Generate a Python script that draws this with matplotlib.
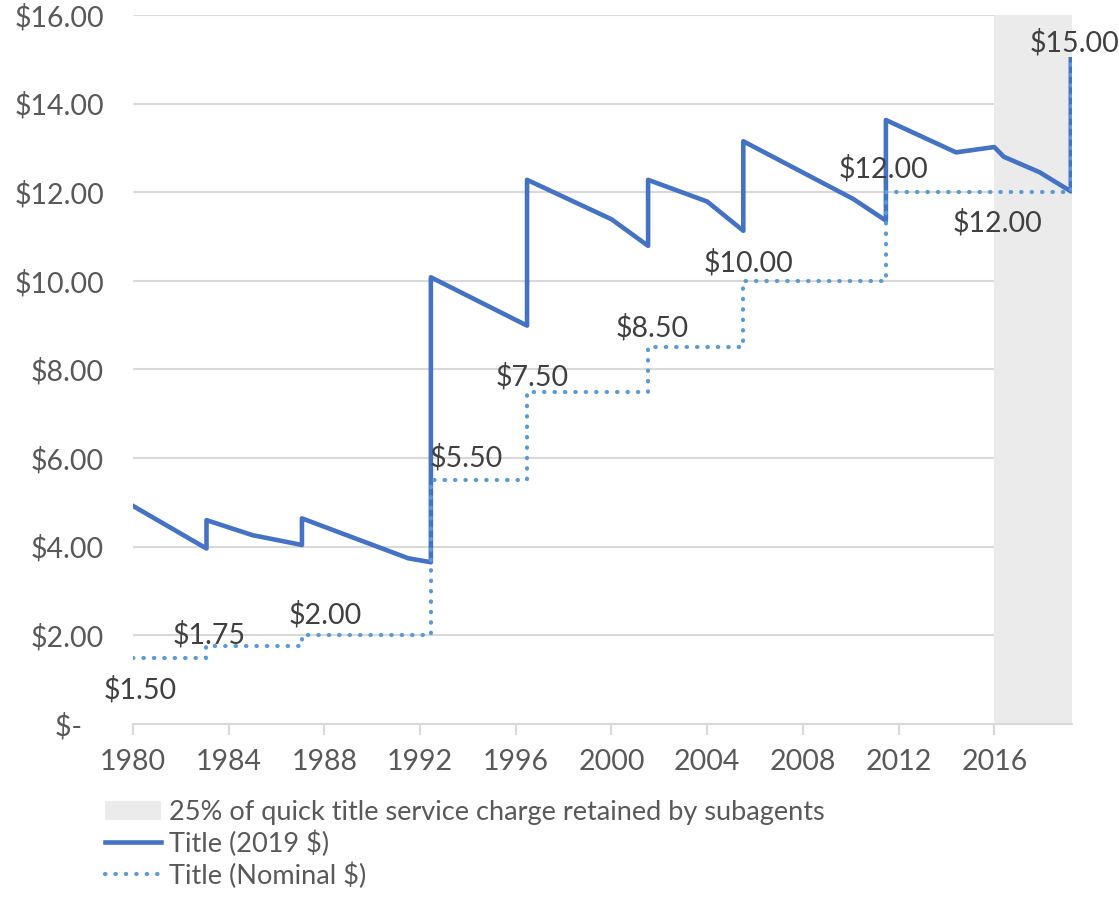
import numpy as np
import matplotlib
matplotlib.use("Agg")
import matplotlib.pyplot as plt
from matplotlib.patches import Patch
from matplotlib.lines import Line2D

plt.rcParams['font.family'] = ['Lato', 'DejaVu Sans']

# Title fee in 2019 dollars (vertical jumps repeat the year)
real_years = [1980, 1983.07, 1983.07, 1985.0, 1987.06, 1987.06, 1991.5, 1992.45,
              1992.45, 1996.47, 1996.47, 2000.0, 2001.53, 2001.53, 2004.0, 2005.51,
              2005.51, 2010.1, 2011.47, 2011.47, 2014.4, 2016.0, 2016.4, 2017.9,
              2019.2, 2019.2]
real_fees = [4.92, 3.96, 4.60, 4.26, 4.04, 4.64, 3.74, 3.65,
             10.08, 8.99, 12.28, 11.39, 10.79, 12.28, 11.79, 11.13,
             13.15, 11.85, 11.36, 13.63, 12.90, 13.02, 12.80, 12.45,
             12.02, 15.00]

# Title fee in nominal dollars (changes)
nominal_years = [1980, 1983.07, 1987.06, 1992.45, 1996.47, 2001.53, 2005.51, 2011.47, 2019.2]
nominal_fees = [1.50, 1.75, 2.00, 5.50, 7.50, 8.50, 10.00, 12.00, 15.00]

# labelled points on the nominal line
label_years = [1980, 1983.07, 1987.06, 1992.45, 1996.47, 2001.53, 2005.51, 2011.47, 2016.0, 2019.2]
label_offsets = [(7, -32), (3, 12), (23, 21), (35, 23), (5, 15), (4, 20), (5, 18),
                 (-2, 23), (3, -31), (4, 17)]

subagent_start, subagent_end = 2016.0, 2019.25

solid_blue = '#4472C4'
dot_blue = '#5B9BD5'
grid_col = '#D9D9D9'
txt_col = '#595959'
dots = (0, (0.1, 2.4))

fig = plt.figure(figsize=(11.19, 9.14), dpi=100)
ax = fig.add_axes([0.1189, 0.2079, 0.958 - 0.1189, 0.7757])

ax.set_xlim(1980, subagent_end)
ax.set_ylim(0, 16)

ax.yaxis.grid(True, color=grid_col, linewidth=1.5, zorder=0)
ax.set_axisbelow(True)
ax.axvspan(subagent_start, subagent_end, color='#EBEBEB', zorder=1, linewidth=0)

ax.plot(real_years, real_fees, color=solid_blue, linewidth=3.3, zorder=3)
ax.step(nominal_years, nominal_fees, where='post', color=dot_blue, linewidth=3.0,
        linestyle=dots, dash_capstyle='round', zorder=4)

for yr, off in zip(label_years, label_offsets):
    idx = np.searchsorted(nominal_years, yr, side='right') - 1
    val = nominal_fees[idx]
    ax.annotate(f"${val:.2f}", xy=(yr, val), xytext=off, textcoords='offset pixels',
                ha='center', va='center', fontsize=20.5, color='#404040', zorder=5,
                annotation_clip=False)

for s in ['top', 'right', 'left']:
    ax.spines[s].set_visible(False)
ax.spines['bottom'].set_color(grid_col)
ax.spines['bottom'].set_linewidth(1.5)

ax.set_yticks(np.arange(0, 17, 2))
ax.set_yticklabels(['$-   '] + [f"${v:.2f}" for v in np.arange(2, 17, 2)])
ax.set_xticks(np.arange(1980, 2017, 4))
ax.tick_params(axis='y', length=0, pad=21, labelsize=20.5, labelcolor=txt_col)
ax.tick_params(axis='x', length=8, width=1.5, color=grid_col, pad=10,
               labelsize=20.5, labelcolor=txt_col)

handles = [Patch(facecolor='#EBEBEB', edgecolor='none'),
           Line2D([], [], color=solid_blue, linewidth=3.3),
           Line2D([], [], color=dot_blue, linewidth=3.0, linestyle=dots,
                  dash_capstyle='round')]
labels = ['25% of quick title service charge retained by subagents',
          'Title (2019 $)', 'Title (Nominal $)']
leg = fig.legend(handles, labels, loc='upper left', bbox_to_anchor=(0.094, 0.125),
                 frameon=False, fontsize=19.5, handlelength=2.05, handletextpad=0.3,
                 labelspacing=0.2, borderpad=0, borderaxespad=0)
for t in leg.get_texts():
    t.set_color(txt_col)

fig.savefig('out.png', dpi=100)
